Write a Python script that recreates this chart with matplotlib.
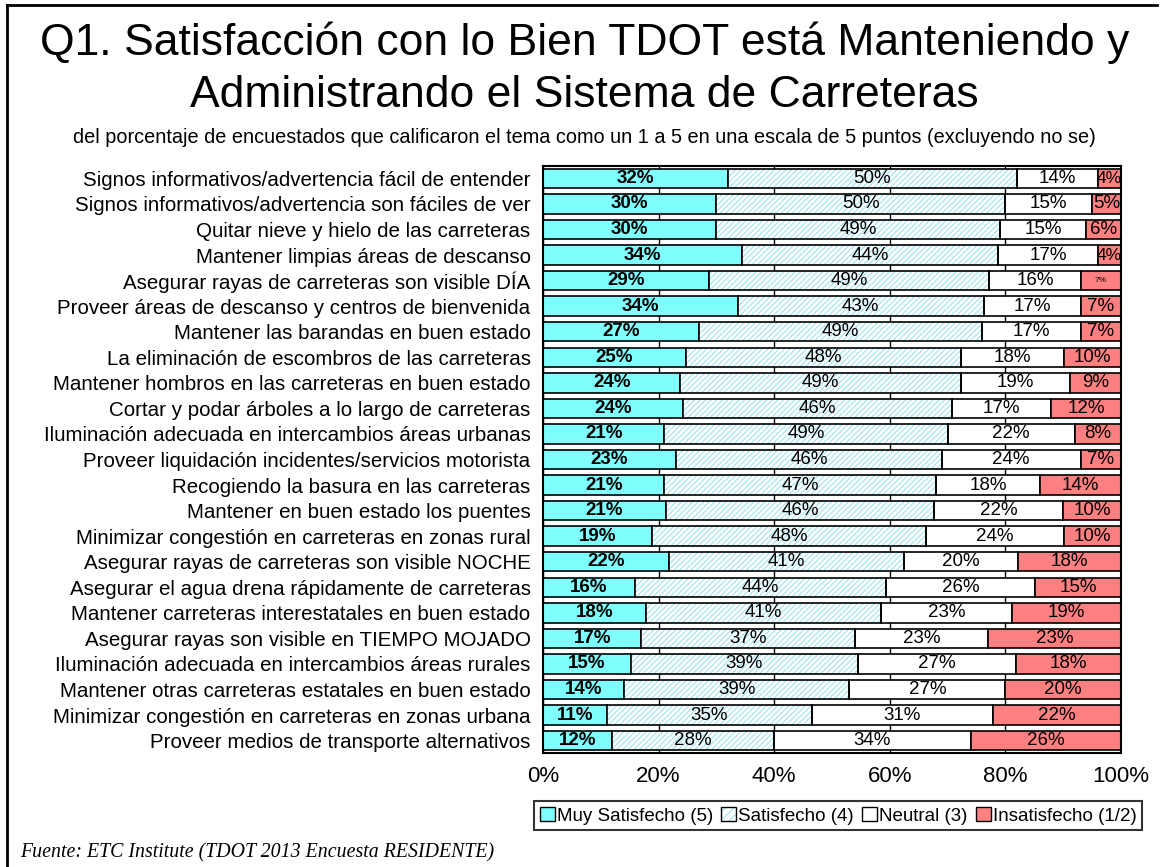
import numpy as np
import matplotlib.pyplot as plt
from matplotlib.lines import Line2D
from matplotlib.patches import Patch

plt.rcParams['font.family'] = ['Liberation Sans', 'DejaVu Sans']
plt.rcParams['hatch.linewidth'] = 0.8

labels = [
    "Signos informativos/advertencia fácil de entender",
    "Signos informativos/advertencia son fáciles de ver",
    "Quitar nieve y hielo de las carreteras",
    "Mantener limpias áreas de descanso",
    "Asegurar rayas de carreteras son visible DÍA",
    "Proveer áreas de descanso y centros de bienvenida",
    "Mantener las barandas en buen estado",
    "La eliminación de escombros de las carreteras",
    "Mantener hombros en las carreteras en buen estado",
    "Cortar y podar árboles a lo largo de carreteras",
    "Iluminación adecuada en intercambios áreas urbanas",
    "Proveer liquidación incidentes/servicios motorista",
    "Recogiendo la basura en las carreteras",
    "Mantener en buen estado los puentes",
    "Minimizar congestión en carreteras en zonas rural",
    "Asegurar rayas de carreteras son visible NOCHE",
    "Asegurar el agua drena rápidamente de carreteras",
    "Mantener carreteras interestatales en buen estado",
    "Asegurar rayas son visible en TIEMPO MOJADO",
    "Iluminación adecuada en intercambios áreas rurales",
    "Mantener otras carreteras estatales en buen estado",
    "Minimizar congestión en carreteras en zonas urbana",
    "Proveer medios de transporte alternativos",
]
muy_satisfecho = [32, 30, 30, 34, 29, 34, 27, 25, 24, 24, 21, 23, 21, 21, 19, 22, 16, 18, 17, 15, 14, 11, 12]
satisfecho = [50, 50, 49, 44, 49, 43, 49, 48, 49, 46, 49, 46, 47, 46, 48, 41, 44, 41, 37, 39, 39, 35, 28]
neutral = [14, 15, 15, 17, 16, 17, 17, 18, 19, 17, 22, 24, 18, 22, 24, 20, 26, 23, 23, 27, 27, 31, 34]
insatisfecho = [4, 5, 6, 4, 7, 7, 7, 10, 9, 12, 8, 7, 14, 10, 10, 18, 15, 19, 23, 18, 20, 22, 26]

series = [
    ("Muy Satisfecho (5)", muy_satisfecho, '#80ffff', None),
    ("Satisfecho (4)", satisfecho, 'white', '//////'),
    ("Neutral (3)", neutral, 'white', None),
    ("Insatisfecho (1/2)", insatisfecho, '#ff8080', None),
]
hatch_color = '#9ee4ef'

fig = plt.figure(figsize=(11.69, 8.67), dpi=100)
ax = fig.add_axes([0.4645, 0.131, 0.4945, 0.678])

y = np.arange(len(labels))
totals = np.sum([s[1] for s in series], axis=0).astype(float)
left = np.zeros(len(labels))
handles = []
for name, vals, color, hatch in series:
    raw = np.array(vals, dtype=float)
    widths = raw / totals * 100
    if hatch:
        ax.barh(y, widths, left=left, height=0.76, color=color, hatch=hatch,
                edgecolor=hatch_color, linewidth=0, zorder=3)
        ax.barh(y, widths, left=left, height=0.76, fill=False,
                edgecolor='black', linewidth=1.2, zorder=3.5)
        h = (Patch(facecolor=color, hatch='////', edgecolor=hatch_color, linewidth=0),
             Patch(fill=False, edgecolor='black'))
    else:
        ax.barh(y, widths, left=left, height=0.76, color=color,
                edgecolor='black', linewidth=1.2, zorder=3)
        h = Patch(facecolor=color, edgecolor='black')
    handles.append(h)
    for i, (l, w, v) in enumerate(zip(left, widths, raw)):
        fs = 13.5
        if name.startswith("Insatisfecho") and v < 5:
            fs = 12.5
        if name.startswith("Insatisfecho") and i == 4:
            fs = 6
        ax.text(l + w / 2, i, "%d%%" % v, ha='center', va='center',
                fontsize=fs, zorder=4,
                fontweight='bold' if name.startswith("Muy") else 'normal')
    left += widths

ax.set_xlim(0, 100)
ax.set_ylim(len(labels) - 0.5, -0.5)
ax.set_yticks(y)
ax.set_yticklabels(labels, fontsize=14.8)
ax.set_xticks(np.arange(0, 101, 20))
ax.set_xticklabels(["%d%%" % t for t in range(0, 101, 20)], fontsize=16)
ax.tick_params(axis='y', length=0, pad=9)
ax.tick_params(axis='x', length=0, pad=9)
ax.grid(axis='x', color='black', linewidth=1, zorder=0)
for s in ax.spines.values():
    s.set_linewidth(1.5)
    s.set_zorder(5)

leg = fig.legend(handles=handles, labels=[s[0] for s in series], loc='center',
                 bbox_to_anchor=(0.717, 0.059), ncol=4, fontsize=13.5,
                 frameon=True, fancybox=False, edgecolor='black',
                 handlelength=0.8, handleheight=0.8, handletextpad=0.1,
                 columnspacing=0.45, borderpad=0.3, borderaxespad=0)
leg.get_frame().set_linewidth(1.5)

fig.text(0.5, 0.975, "Q1. Satisfacción con lo Bien TDOT está Manteniendo y",
         ha='center', va='top', fontsize=32)
fig.text(0.5, 0.914, "Administrando el Sistema de Carreteras",
         ha='center', va='top', fontsize=32)
fig.text(0.5, 0.852, "del porcentaje de encuestados que calificaron el tema como un 1 a 5 en una escala de 5 puntos (excluyendo no se)",
         ha='center', va='top', fontsize=14.3)
fig.text(0.017, 0.016, "Fuente: ETC Institute (TDOT 2013 Encuesta RESIDENTE)",
         ha='left', va='center', fontsize=14.3, style='italic',
         family=['Liberation Serif', 'DejaVu Serif'])

fig.add_artist(Line2D([0.006, 0.006], [0, 0.994], color='black', linewidth=2,
                      transform=fig.transFigure))
fig.add_artist(Line2D([0.006, 0.99], [0.994, 0.994], color='black', linewidth=2,
                      transform=fig.transFigure))

fig.savefig("out.png", dpi=100)
